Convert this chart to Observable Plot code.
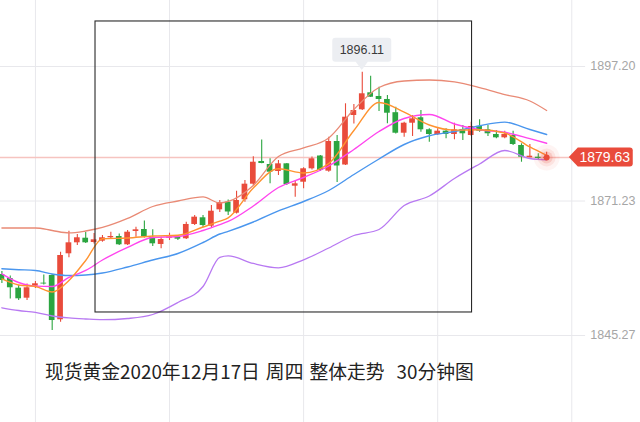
<!DOCTYPE html>
<html><head><meta charset="utf-8">
<script src="https://cdn.jsdelivr.net/npm/d3@7"></script>
<script src="https://cdn.jsdelivr.net/npm/@observablehq/plot@0.6"></script>
<style>
html,body{margin:0;padding:0;background:#fff;}
#wrap{position:relative;width:640px;height:422px;overflow:hidden;}
#caption{position:absolute;left:45px;top:358.5px;line-height:24px;font-family:"Noto Sans CJK SC","Noto Sans",sans-serif;font-size:18.8px;color:#222;white-space:pre;word-spacing:1.8px;}
</style></head><body>
<div id="wrap"><div id="chart"></div><div id="caption"></div></div>
<script>
// ---- data (30-minute spot gold candles) ----
const opens  = [1857.04,1856.27,1854.40,1852.47,1854.79,1855.37,1856.85,1848.30,1861.04,1863.16,1864.05,1863.22,1863.47,1864.13,1864.38,1862.78,1865.35,1865.73,1864.19,1862.84,1864.03,1864.25,1863.94,1866.70,1867.99,1866.37,1869.53,1871.00,1868.88,1871.47,1874.48,1878.86,1878.28,1876.93,1878.41,1874.09,1874.86,1877.45,1879.92,1876.99,1882.72,1878.18,1887.74,1888.84,1892.12,1891.41,1890.83,1888.28,1884.32,1886.25,1887.30,1884.98,1884.07,1884.71,1884.07,1885.04,1883.88,1885.62,1884.98,1884.07,1883.43,1883.88,1881.95,1879.57,1879.69,1879.44];
const highs  = [1857.62,1856.75,1854.92,1855.21,1855.69,1856.95,1857.04,1861.35,1865.40,1864.77,1865.15,1864.96,1864.57,1865.21,1864.86,1865.54,1866.18,1867.37,1865.69,1864.25,1865.02,1864.57,1867.14,1868.43,1868.43,1870.36,1871.33,1871.43,1873.11,1875.19,1879.77,1883.01,1879.38,1879.05,1878.47,1875.06,1877.64,1879.73,1880.02,1883.55,1883.88,1890.00,1889.86,1896.11,1895.33,1893.20,1891.60,1889.34,1886.45,1887.74,1888.70,1885.17,1885.17,1885.17,1886.25,1885.81,1886.45,1886.91,1885.81,1884.84,1884.71,1884.71,1882.28,1882.14,1880.35,1880.65];
const lows   = [1855.31,1852.31,1852.02,1852.02,1854.34,1855.02,1846.23,1847.84,1860.27,1862.64,1863.03,1862.93,1863.28,1863.94,1862.64,1862.64,1864.25,1864.09,1862.45,1862.01,1863.61,1863.61,1863.80,1866.50,1866.06,1866.06,1869.01,1868.43,1868.72,1871.00,1874.13,1878.41,1874.55,1876.16,1874.23,1871.97,1873.59,1877.22,1876.93,1876.79,1874.81,1878.09,1886.10,1888.70,1891.21,1888.51,1886.14,1884.17,1883.55,1883.69,1884.52,1882.58,1883.88,1883.24,1883.05,1882.91,1883.69,1884.52,1883.69,1883.24,1883.24,1881.95,1878.72,1879.57,1879.05,1879.05];
const closes = [1855.89,1854.48,1852.35,1854.48,1855.25,1855.21,1848.16,1860.71,1863.16,1864.13,1863.16,1863.74,1864.13,1864.38,1862.78,1865.21,1865.67,1864.32,1862.97,1863.80,1864.28,1863.86,1866.70,1868.11,1866.50,1869.26,1870.94,1869.11,1871.33,1874.48,1878.72,1878.47,1876.79,1878.41,1874.42,1874.55,1877.45,1879.38,1877.12,1882.72,1877.99,1887.41,1888.70,1891.93,1891.27,1890.83,1888.18,1884.32,1886.25,1887.10,1884.98,1884.07,1884.71,1884.07,1884.98,1884.21,1885.62,1884.71,1884.21,1883.43,1884.07,1882.14,1879.69,1879.88,1879.44,1879.63];

// indicator lines, read at these candle positions
const sampleIdx = [0,2,4,6,8,10,12,15,18,21,24,26,27,30,33,36,39,42,45,48,51,54,57,60,63,65];
const bollUpper = [1866.02,1866.02,1866.02,1865.54,1865.06,1865.44,1866.12,1867.86,1870.17,1871.23,1872.01,1870.85,1871.14,1874.23,1879.82,1881.47,1883.40,1888.90,1893.14,1894.40,1894.59,1894.21,1893.14,1891.79,1890.54,1888.70];
const bollMid   = [1858.14,1857.97,1857.82,1857.14,1856.85,1856.95,1857.33,1858.49,1859.84,1861.10,1863.22,1864.86,1865.38,1867.18,1869.34,1871.14,1873.26,1876.35,1879.34,1882.14,1883.82,1884.65,1885.77,1886.45,1885.04,1884.07];
const bollLower = [1850.62,1850.09,1849.71,1849.03,1848.65,1848.45,1848.32,1848.55,1849.32,1851.64,1854.73,1860.33,1860.62,1859.17,1858.34,1859.88,1862.16,1864.57,1865.73,1870.36,1872.20,1875.58,1878.38,1880.98,1879.44,1879.19];
const ma5       = [1856.18,1855.02,1854.73,1853.67,1855.89,1859.75,1863.94,1864.09,1864.48,1864.61,1866.21,1867.33,1867.99,1873.74,1877.45,1876.64,1878.47,1884.84,1890.25,1888.41,1885.91,1884.92,1884.98,1884.36,1881.66,1880.02];
const ma10      = [1857.18,1855.50,1854.79,1854.73,1856.47,1857.82,1859.84,1862.26,1864.19,1864.38,1865.54,1866.66,1867.28,1870.27,1873.84,1875.77,1877.99,1881.18,1884.65,1887.16,1887.93,1886.10,1884.98,1884.50,1883.26,1882.39];

// axis
const yTicks = [1897.20, 1871.23, 1845.27];
const xGridIdx = [4, 20, 36, 52, 68];
const axisIdx = 68;
const lastPrice = 1879.63;
const peakIdx = 43, peakPrice = 1896.11;
// highlighted window (candle index span and price span)
const boxSpan = [{x1: 11.17, x2: 56.1, y1: 1849.71, y2: 1905.89}];
const captionText = "现货黄金2020年12月17日 周四 整体走势  30分钟图";

(function () {
const candles = opens.map((o, i) => ({i, o, h: highs[i], l: lows[i], c: closes[i], up: closes[i] >= o}));
const mk = (vals) => sampleIdx.map((i, k) => ({i, v: vals[k]}));

const RED = "#e94b3b", GREEN = "#2ba540";
const GRID = "#e8e8ec";
const xDomain = [-0.167, 76.2];
const last = [{i: candles.length - 1, v: lastPrice}];

const plot = Plot.plot({
  width: 640, height: 422,
  marginTop: 0, marginBottom: 0, marginLeft: 0, marginRight: 0,
  x: {domain: xDomain, axis: null},
  y: {domain: [1828.47, 1909.94], axis: null},
  style: {background: "transparent", overflow: "visible"},
  marks: [
    Plot.ruleX(xGridIdx, {stroke: GRID, strokeWidth: 1}),
    Plot.ruleY(yTicks, {x1: xDomain[0], x2: axisIdx + 1.65, stroke: GRID, strokeWidth: 1}),
    Plot.ruleY([lastPrice], {x1: xDomain[0], x2: axisIdx, stroke: "#f6c4c0", strokeWidth: 1.6}),
    Plot.ruleX(candles, {x: "i", y1: "l", y2: "h", stroke: d => d.up ? RED : GREEN, strokeWidth: 1.1}),
    Plot.rect(candles, {x1: d => d.i - 0.34, x2: d => d.i + 0.34,
      y1: d => Math.min(d.o, d.c), y2: d => Math.max(d.o, d.c),
      fill: d => d.up ? RED : GREEN}),
    Plot.line(mk(bollUpper), {x: "i", y: "v", stroke: "#e98a75", strokeWidth: 1.3, curve: "monotone-x"}),
    Plot.line(mk(bollLower), {x: "i", y: "v", stroke: "#b879f2", strokeWidth: 1.3, curve: "monotone-x"}),
    Plot.line(mk(bollMid), {x: "i", y: "v", stroke: "#4a96ee", strokeWidth: 1.4, curve: "monotone-x"}),
    Plot.line(mk(ma10), {x: "i", y: "v", stroke: "#ff45ee", strokeWidth: 1.4, curve: "monotone-x"}),
    Plot.line(mk(ma5), {x: "i", y: "v", stroke: "#ff9330", strokeWidth: 1.4, curve: "monotone-x"}),
    Plot.rect(boxSpan, {x1: "x1", x2: "x2", y1: "y1", y2: "y2", fill: "none", stroke: "#2a2a2a", strokeWidth: 1.1}),
    Plot.dot(last, {x: "i", y: "v", r: 13, fill: RED, fillOpacity: 0.06}),
    Plot.dot(last, {x: "i", y: "v", r: 9, fill: RED, fillOpacity: 0.1}),
    Plot.dot(last, {x: "i", y: "v", r: 6, fill: RED, fillOpacity: 0.18}),
    Plot.dot(last, {x: "i", y: "v", r: 3, fill: RED}),
    Plot.text(yTicks, {y: d => d, text: d => d.toFixed(2), frameAnchor: "right", textAnchor: "end", dx: -5,
      fill: "#a6a6a6", fontSize: 12.5, fontFamily: "Liberation Sans, Arial, sans-serif"})
  ]
});
document.getElementById("chart").appendChild(plot);

const sx = plot.scale("x"), sy = plot.scale("y");
const svg = d3.select(plot);

// price tag at the axis
const tx = sx.apply(axisIdx), ty = sy.apply(lastPrice);
const tip = tx - 2.5, bx = tx + 6.5, bw = 55, bh = 19;
svg.append("path")
  .attr("d", `M${tip},${ty} L${bx},${ty - bh/2} H${bx + bw - 3} Q${bx + bw},${ty - bh/2} ${bx + bw},${ty - bh/2 + 3} V${ty + bh/2 - 3} Q${bx + bw},${ty + bh/2} ${bx + bw - 3},${ty + bh/2} H${bx} Z`)
  .attr("fill", RED);
svg.append("text").attr("x", bx + bw/2 - 0.5).attr("y", ty).attr("dy", "0.36em")
  .attr("text-anchor", "middle").attr("fill", "#fff")
  .attr("font-family", "Liberation Sans, Arial, sans-serif").attr("font-size", 14)
  .text(lastPrice.toFixed(2));

// peak tooltip
const ax = sx.apply(peakIdx), ay = sy.apply(peakPrice);
const w = 59, h = 24, bBottom = ay - 9.8, bTop = bBottom - h;
svg.append("path")
  .attr("d", `M${ax - w/2 + 3},${bTop} H${ax + w/2 - 3} Q${ax + w/2},${bTop} ${ax + w/2},${bTop + 3} V${bBottom - 3} Q${ax + w/2},${bBottom} ${ax + w/2 - 3},${bBottom} H${ax + 6} L${ax},${ay - 1.6} L${ax - 6},${bBottom} H${ax - w/2 + 3} Q${ax - w/2},${bBottom} ${ax - w/2},${bBottom - 3} V${bTop + 3} Q${ax - w/2},${bTop} ${ax - w/2 + 3},${bTop} Z`)
  .attr("fill", "#eceef2");
svg.append("text").attr("x", ax).attr("y", bTop + h/2).attr("dy", "0.36em")
  .attr("text-anchor", "middle").attr("fill", "#3a3a3a")
  .attr("font-family", "Liberation Sans, Arial, sans-serif").attr("font-size", 12.5)
  .text(peakPrice.toFixed(2));

document.getElementById("caption").textContent = captionText;
})();
</script>
</body></html>
